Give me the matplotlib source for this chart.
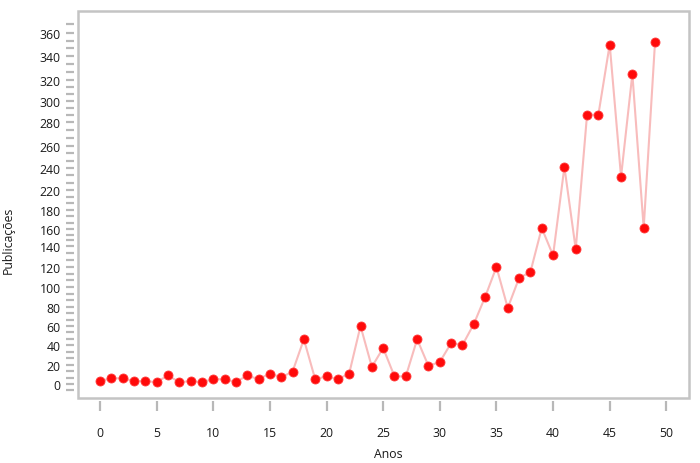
import numpy as np
import matplotlib
matplotlib.use("Agg")
import matplotlib.pyplot as plt
from matplotlib.patches import Rectangle
from matplotlib.ticker import FixedLocator, MultipleLocator

plt.rcParams['font.family'] = ['Open Sans', 'DejaVu Sans']

# anos (0..49) e número de publicações
anos = list(range(50))
publicacoes = [3, 6, 6, 3, 3, 2, 9, 2, 3, 2,
               5, 5, 2, 9, 5, 11, 7, 13, 46, 5,
               8, 5, 11, 60, 18, 37, 8, 8, 46, 19,
               23, 42, 40, 62, 90, 120, 79, 109, 115, 161,
               131, 241, 137, 287, 287, 350, 232, 325, 161, 352]

# rótulos do eixo y como aparecem no gráfico original (sem o 200)
y_labels = [0, 20, 40, 60, 80, 100, 120, 140, 160, 180,
            220, 240, 260, 280, 300, 320, 340, 360]
# altura (px acima do zero) onde cada rótulo aparece no original
y_label_px = [0, 19, 39, 58, 77, 97, 117, 138, 155, 174,
              194, 216, 238, 262, 283, 304, 328, 351]

# escala do eixo y: interpolação entre rótulo e posição
sv = [-100] + y_labels + [500]
sp = [-97] + y_label_px + [512]

def fwd(v):
    return np.interp(v, sv, sp)

def inv(p):
    return np.interp(p, sp, sv)

fig = plt.figure(figsize=(7, 4.64), dpi=100)
ax = fig.add_axes([78/700, 1 - 399/464, (689-78)/700, (399-12)/464])
ax.set_yscale('function', functions=(fwd, inv))

ax.plot(anos, publicacoes, color='#f8bcbc', lw=1.5, zorder=2)
ax.plot(anos, publicacoes, 'o', color='#ff0a0a', ms=6.5, mec='#ff3a3a', mew=0.6, zorder=3)

ax.set_xlim(-1.94, 52.0)
ax.set_ylim(inv(-14), inv(373))

ax.xaxis.set_major_locator(MultipleLocator(5))
ax.yaxis.set_major_locator(FixedLocator(y_labels))
ax.yaxis.set_major_formatter(plt.FixedFormatter([str(v) for v in y_labels]))

minor = []
for a, b in zip(y_labels[:-1], y_labels[1:]):
    minor += [a + (b - a) / 3, a + 2 * (b - a) / 3]
minor += [-20 / 3, 360 + 23 / 3]
ax.yaxis.set_minor_locator(FixedLocator(minor))

for s in ax.spines.values():
    s.set_visible(False)
ax.spines['left'].set_position(('outward', 3))
ax.spines['bottom'].set_position(('outward', 2))
ax.add_patch(Rectangle((0, 0), 1, 1, transform=ax.transAxes, fill=False,
                       ec='#c4c4c4', lw=1.8, clip_on=False, zorder=5))

gray = '#b8b8b8'
ax.tick_params(axis='y', which='both', length=6, width=1.6, color=gray,
               labelsize=8.8, pad=3.5, labelcolor='#1a1a1a')
ax.tick_params(axis='x', length=7, width=1.6, color=gray,
               labelsize=8.8, pad=11, labelcolor='#1a1a1a')

fig.text(388/700, 1 - 455/464, 'Anos', ha='center', va='center', fontsize=8.8, color='#1a1a1a')
fig.text(8/700, 1 - 240/464, 'Publicações', ha='center', va='center', rotation=90,
         fontsize=8.8, color='#1a1a1a')

fig.savefig('out.png', dpi=100)
